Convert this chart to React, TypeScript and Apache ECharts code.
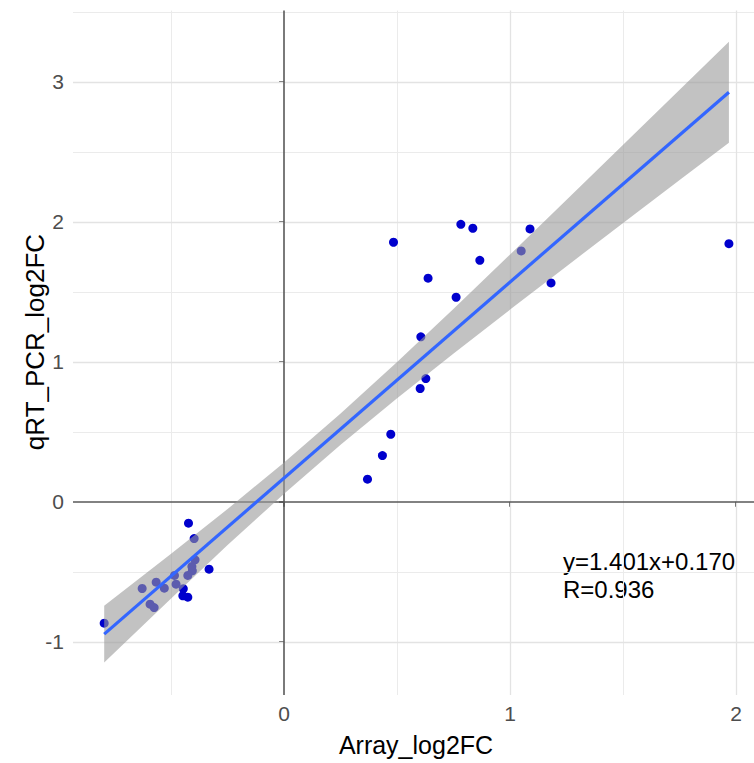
import React, { useEffect, useRef } from "react";
import * as echarts from "echarts";

// Scatter points (Array_log2FC, qRT_PCR_log2FC)
const pointX = [
  -0.423, -0.398, -0.394, -0.408, -0.406, -0.426, -0.332, -0.485, -0.478, -0.53,
  -0.566, -0.628, -0.446, -0.448, -0.426, -0.593, -0.575, -0.796,
  0.484, 0.782, 0.835, 1.088, 1.049, 0.866, 0.637, 1.181, 0.761, 0.605, 0.627,
  0.602, 0.472, 0.435, 0.369, 1.968,
];
const pointY = [
  -0.152, -0.262, -0.414, -0.462, -0.493, -0.526, -0.481, -0.526, -0.588, -0.617,
  -0.574, -0.619, -0.621, -0.671, -0.681, -0.731, -0.755, -0.867,
  1.855, 1.983, 1.955, 1.95, 1.793, 1.726, 1.598, 1.564, 1.462, 1.179, 0.881,
  0.81, 0.483, 0.331, 0.162, 1.845,
];

// Fitted line ends and confidence band
const fitX = [-0.796, 1.968];
const fitY = [-0.945, 2.927];
const bandX = [-0.796, -0.5, -0.25, 0, 0.25, 0.5, 0.75, 1.0, 1.25, 1.5, 1.75, 1.968];
const bandLower = [-1.147, -0.69, -0.309, 0.058, 0.408, 0.74, 1.06, 1.374, 1.684, 1.993, 2.3, 2.566];
const bandUpper = [-0.743, -0.37, -0.051, 0.282, 0.632, 1.0, 1.38, 1.768, 2.158, 2.551, 2.944, 3.288];

// Axes
const xTicks = [0, 1, 2];
const yTicks = [-1, 0, 1, 2, 3];
const xMinorGrid = [-0.5, 0.5, 1.5];
const yMinorGrid = [-0.5, 0.5, 1.5, 2.5, 3.5];
const xMajorGrid = [1, 2];
const yMajorGrid = [-1, 1, 2, 3];
const zeroLines = [0];

const annotation = ["y=1.401x+0.170", "R=0.936"];
const xTitle = "Array_log2FC";
const yTitle = "qRT_PCR_log2FC";

const FONT = "'Liberation Sans', Arial, Helvetica, sans-serif";

export default function App() {
  const ref = useRef<HTMLDivElement>(null);

  useEffect(() => {
    if (!ref.current) return;
    const chart = echarts.init(ref.current, null, { renderer: "svg" });

    const gridLines: any[] = [];
    const ls = (color: string, width: number) => ({ color, width, type: "solid" });
    xMinorGrid.forEach((v) => gridLines.push({ xAxis: v, lineStyle: ls("#ebebeb", 1) }));
    yMinorGrid.forEach((v) => gridLines.push({ yAxis: v, lineStyle: ls("#ebebeb", 1) }));
    xMajorGrid.forEach((v) => gridLines.push({ xAxis: v, lineStyle: ls("#e3e3e3", 1.3) }));
    yMajorGrid.forEach((v) => gridLines.push({ yAxis: v, lineStyle: ls("#e3e3e3", 1.3) }));
    zeroLines.forEach((v) => {
      gridLines.push({ xAxis: v, lineStyle: ls("#595959", 1.6) });
      gridLines.push({ yAxis: v, lineStyle: ls("#595959", 1.6) });
    });

    const bandData = bandX.map((x, i) => [x, bandLower[i], bandUpper[i]]);

    const axisCommon = (ticks: number[], margin: number) => ({
      type: "value",
      axisLine: { show: true, lineStyle: { color: "rgba(0,0,0,0)", width: 0 } },
      splitLine: { show: false },
      axisTick: {
        show: true,
        customValues: ticks,
        length: 5,
        lineStyle: { color: "#333333", width: 1.5 },
      },
      axisLabel: {
        customValues: ticks,
        margin,
        color: "#4d4d4d",
        fontSize: 21,
        fontFamily: FONT,
      },
    });

    const option: any = {
      animation: false,
      backgroundColor: "#ffffff",
      grid: { left: 73, right: 0, top: 10.6, bottom: 68, containLabel: false },
      xAxis: { ...axisCommon(xTicks, 8), min: -0.934, max: 2.079 },
      yAxis: { ...axisCommon(yTicks, 9), min: -1.38, max: 3.51 },
      series: [
        {
          type: "line",
          data: [],
          z: 1,
          silent: true,
          markLine: {
            silent: true,
            z: 1,
            symbol: ["none", "none"],
            label: { show: false },
            lineStyle: { type: "solid" },
            data: gridLines,
          },
        },
        {
          type: "scatter",
          z: 3,
          data: pointX.map((x, i) => [x, pointY[i]]),
          symbol: "circle",
          symbolSize: 9,
          itemStyle: { color: "#0000cd", opacity: 1 },
        },
        {
          type: "custom",
          z: 4,
          clip: true,
          data: bandData,
          encode: { x: 0, y: [1, 2] },
          renderItem: (params: any, api: any) => {
            if (params.dataIndex !== 0) return { type: "group", children: [] };
            const upper = bandX.map((x, i) => api.coord([x, bandUpper[i]]));
            const lower = bandX.map((x, i) => api.coord([x, bandLower[i]])).reverse();
            return {
              type: "polygon",
              shape: { points: upper.concat(lower) },
              style: { fill: "rgba(153,153,153,0.6)" },
            };
          },
        },
        {
          type: "line",
          z: 5,
          data: fitX.map((x, i) => [x, fitY[i]]),
          showSymbol: false,
          symbol: "none",
          lineStyle: { color: "#3366ff", width: 3.2 },
        },
      ],
      graphic: [
        {
          type: "text",
          left: 563,
          top: 549,
          style: { text: annotation[0], font: `24px ${FONT}`, fill: "#000000" },
        },
        {
          type: "text",
          left: 563,
          top: 577,
          style: { text: annotation[1], font: `24px ${FONT}`, fill: "#000000" },
        },
        {
          type: "text",
          x: 416,
          y: 745,
          style: {
            text: xTitle,
            font: `25px ${FONT}`,
            fill: "#000000",
            textAlign: "center",
            textVerticalAlign: "middle",
          },
        },
        {
          type: "text",
          x: 35,
          y: 342,
          rotation: Math.PI / 2,
          style: {
            text: yTitle,
            font: `26px ${FONT}`,
            fill: "#000000",
            textAlign: "center",
            textVerticalAlign: "middle",
          },
        },
      ],
    };

    chart.setOption(option);
    return () => chart.dispose();
  }, []);

  return (
    <div
      ref={ref}
      style={{ position: "fixed", left: 0, top: 0, width: 754, height: 763 }}
    />
  );
}
